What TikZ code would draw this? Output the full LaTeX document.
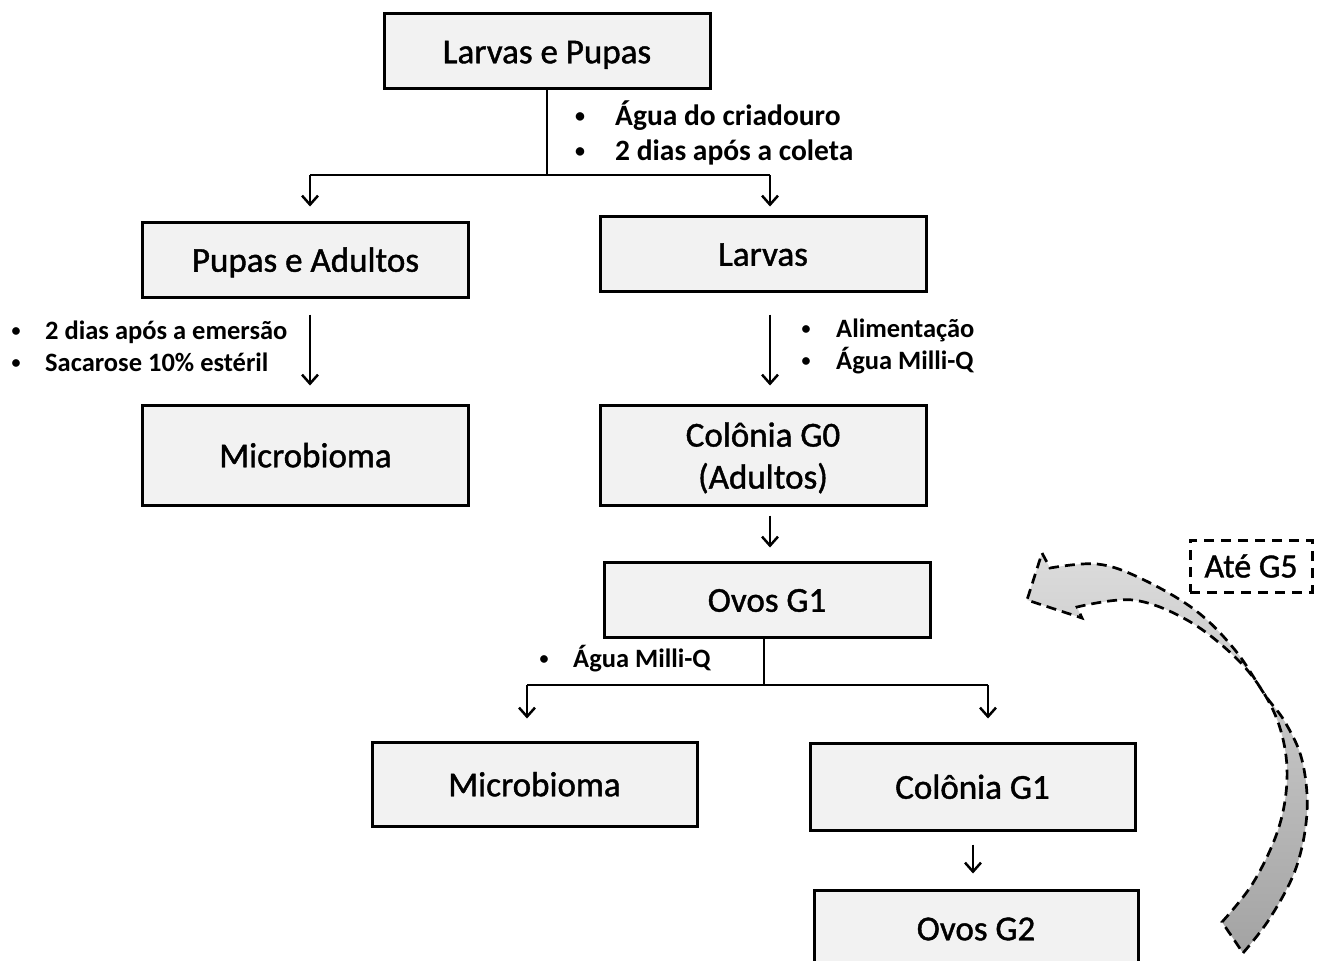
\documentclass[tikz,border=0pt]{standalone}
\usepackage{fontspec}
\setmainfont{Carlito}
\newfontface\boxface{Carlito}[FakeBold=1.2]
\usetikzlibrary{arrows.meta}
\definecolor{boxfill}{HTML}{F2F2F2}
\definecolor{arrlight}{HTML}{DCDCDC}
\definecolor{arrdark}{HTML}{A3A3A3}
\begin{document}
\begin{tikzpicture}[x=1pt,y=-1pt,
 box/.style={draw, line width=3pt, fill=boxfill, minimum width=326pt, minimum height=75pt, inner sep=0pt, font=\boxface\fontsize{35}{42}\selectfont, align=center, text height=31.5pt, text depth=7pt},
 conn/.style={line width=2.5pt},
 arr/.style={line width=2.5pt, -{Straight Barb[length=9pt,width=16pt,line width=2.5pt]}},
 bigbul/.style={anchor=base, inner sep=0pt, yshift=3pt, font=\bfseries\fontsize{20}{24}\selectfont},
 bigtxt/.style={anchor=base west, inner sep=0pt, font=\bfseries\fontsize{29.5}{35}\selectfont},
 smbul/.style={anchor=base, inner sep=0pt, yshift=3pt, font=\bfseries\fontsize{18}{22}\selectfont},
 smtxt/.style={anchor=base west, inner sep=0pt, font=\bfseries\fontsize{26.5}{32}\selectfont},
 dashbox/.style={draw, line width=3pt, dash pattern=on 10pt off 7pt, minimum width=122pt, minimum height=52pt, inner sep=0pt, font=\boxface\fontsize{34}{40}\selectfont},
 curvearrow/.style={draw, line width=2.7pt, dash pattern=on 10pt off 6pt, top color=arrlight, bottom color=arrdark}
]
\clip (0,0) rectangle (1323,961);

% boxes
\node[box] (lp) at (547,51) {Larvas e Pupas};
\node[box] (pa) at (305.5,259.5) {Pupas e Adultos};
\node[box] (lv) at (763,253.5) {Larvas};
\node[box, minimum height=100pt] (mb1) at (305.5,455) {Microbioma};
\node[box, minimum height=100pt, text height={}, text depth={}, inner ysep=0pt] (cg0) at (763,455) {\rule{0pt}{30pt}Colônia G0\\(Adultos)};
\node[box] (ov1) at (767,599.5) {Ovos G1};
\node[box, minimum width=325pt, minimum height=84pt] (mb2) at (534.5,784) {Microbioma};
\node[box, minimum width=325pt, minimum height=87pt] (cg1) at (972.5,786.5) {Colônia G1};
\node[box, minimum width=324pt, minimum height=76pt] (ov2) at (976,928) {Ovos G2};

% connectors from top box
\coordinate (s1) at (547,175);
\coordinate (s1L) at (310,175);
\coordinate (s1R) at (770,175);
\draw[conn] (lp.south) -- (s1);
\draw[conn] (s1L) -- (s1R);
\draw[arr, shorten >=14pt] (s1L) -- (s1L |- pa.north);
\draw[arr, shorten >=8pt] (s1R) -- (s1R |- lv.north);

\draw[arr, shorten <=16pt, shorten >=18pt] ([xshift=4.5pt]pa.south) -- ([xshift=4.5pt]mb1.north);
\draw[arr, shorten <=22pt, shorten >=18pt] ([xshift=7pt]lv.south) -- ([xshift=7pt]cg0.north);
\draw[arr, shorten <=9pt, shorten >=13pt] ([xshift=7pt]cg0.south) -- ([xshift=7pt]cg0.south |- ov1.north);

% split under Ovos G1
\coordinate (s2) at (764,685);
\coordinate (s2L) at (527,685);
\coordinate (s2R) at (988,685);
\draw[conn] ([xshift=-3pt]ov1.south) -- (s2);
\draw[conn] (s2L) -- (s2R);
\draw[arr, shorten >=22pt] (s2L) -- (s2L |- mb2.north);
\draw[arr, shorten >=23pt] (s2R) -- (s2R |- cg1.north);
\draw[arr, shorten <=13pt, shorten >=15pt] ([xshift=0.5pt]cg1.south) -- ([xshift=0.5pt]cg1.south |- ov2.north);

% bullet labels
\node[bigbul] (b1) at (580,125) {•};
\node[bigtxt] (t1) at (615,125) {Água do criadouro};
\node[bigbul] (b2) at (580,160) {•};
\node[bigtxt] (t2) at (615,160) {2 dias após a coleta};

\node[smbul] (b3) at (16,339) {•};
\node[smtxt] (t3) at (45,339) {2 dias após a emersão};
\node[smbul] (b4) at (16,371) {•};
\node[smtxt] (t4) at (45,371) {Sacarose 10\% estéril};

\node[smbul] (b5) at (806,337) {•};
\node[smtxt] (t5) at (836,337) {Alimentação};
\node[smbul] (b6) at (806,369) {•};
\node[smtxt] (t6) at (836,369) {Água Milli-Q};

\node[smbul] (b7) at (544,667) {•};
\node[smtxt] (t7) at (573,667) {Água Milli-Q};

% curved arrow
\path[curvearrow] (1243,953)
 -- plot[smooth, tension=0.6] coordinates {(1243,953) (1270,918) (1296,868) (1307,812) (1302,760) (1285,722) (1265,695) (1235,650) (1195,610) (1140,578) (1097,564) (1050,568)}
 -- (1042,553) -- (1027,600) -- (1082,618) -- (1077,607)
 -- plot[smooth, tension=0.6] coordinates {(1077,607) (1133,600) (1187,620) (1235,657) (1265,695) (1282,735) (1287,780) (1278,830) (1253,883) (1222,922)}
 -- cycle;

\node[dashbox] (g5) at (1251,566) {Até G5};
\end{tikzpicture}
\end{document}
